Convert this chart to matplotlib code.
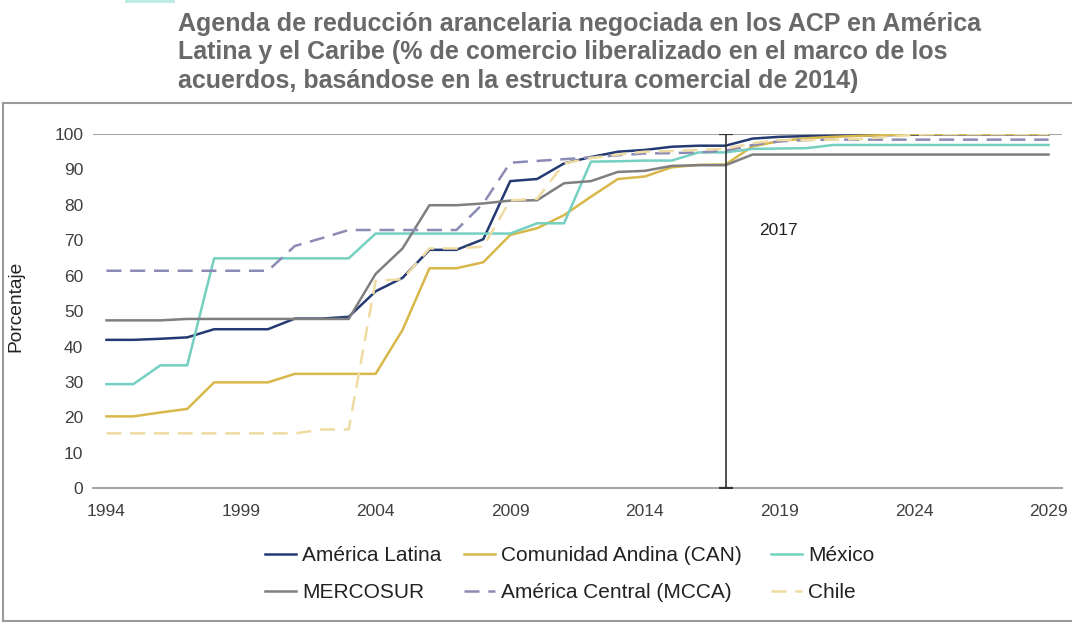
import matplotlib
matplotlib.use("Agg")
import matplotlib.pyplot as plt
from matplotlib.lines import Line2D
from matplotlib.patches import Rectangle

plt.rcParams['font.family'] = ['Liberation Sans', 'DejaVu Sans']

years = list(range(1994, 2030))

america_latina = [41.9, 41.9, 42.2, 42.6, 44.9, 44.9, 44.9, 47.9, 47.9, 48.4,
                  55.6, 59.4, 67.3, 67.3, 70.3, 86.7, 87.3, 91.7, 93.5, 95.0,
                  95.5, 96.4, 96.7, 96.7, 98.7, 99.2, 99.4, 99.5, 99.6, 99.7,
                  99.8, 99.9, 99.9, 99.9, 99.9, 99.9]
can = [20.3, 20.3, 21.4, 22.4, 29.9, 29.9, 29.9, 32.3, 32.3, 32.3,
       32.3, 44.7, 62.1, 62.1, 63.8, 71.5, 73.4, 77.1, 82.3, 87.3,
       88.0, 90.6, 91.3, 91.4, 96.5, 98.0, 98.8, 99.2, 99.5, 99.7,
       100.0, 100.0, 100.0, 100.0, 100.0, 100.0]
mexico = [29.4, 29.4, 34.7, 34.7, 64.9, 64.9, 64.9, 64.9, 64.9, 64.9,
          71.9, 71.9, 71.9, 71.9, 71.9, 71.9, 74.8, 74.8, 92.2, 92.3,
          92.5, 92.5, 94.8, 94.8, 95.8, 95.9, 96.0, 96.9, 96.9, 96.9,
          96.9, 96.9, 96.9, 96.9, 96.9, 96.9]
mercosur = [47.4, 47.4, 47.4, 47.8, 47.8, 47.8, 47.8, 47.8, 47.8, 47.8,
            60.5, 67.7, 79.9, 79.9, 80.4, 81.2, 81.3, 86.1, 86.7, 89.3,
            89.6, 91.0, 91.2, 91.2, 94.2, 94.2, 94.2, 94.2, 94.2, 94.2,
            94.2, 94.2, 94.2, 94.2, 94.2, 94.2]
mcca = [61.4, 61.4, 61.4, 61.4, 61.4, 61.4, 61.4, 68.4, 70.6, 72.9,
        72.9, 72.9, 72.9, 72.9, 80.4, 91.9, 92.4, 92.9, 93.4, 94.0,
        94.5, 94.6, 94.8, 95.3, 96.9, 97.9, 98.3, 98.4, 98.4, 98.4,
        98.4, 98.4, 98.4, 98.4, 98.4, 98.4]
chile = [15.5, 15.5, 15.5, 15.5, 15.5, 15.5, 15.5, 15.5, 16.6, 16.6,
         58.6, 59.0, 67.7, 67.7, 68.2, 81.3, 81.7, 91.7, 93.2, 94.2,
         95.0, 95.2, 95.5, 95.8, 97.4, 98.3, 98.3, 98.4, 98.6, 99.2,
         99.8, 100.0, 100.0, 100.0, 100.0, 100.0]

series_names = ["América Latina", "Comunidad Andina (CAN)", "México",
                "MERCOSUR", "América Central (MCCA)", "Chile"]
xticks = [1994, 1999, 2004, 2009, 2014, 2019, 2024, 2029]
yticks = list(range(0, 101, 10))
marker_year = 2017

W, H = 1072, 623
fig = plt.figure(figsize=(W / 100, H / 100), dpi=100)
ax = fig.add_axes([93 / W, 1 - 488.3 / H, (1062 - 93) / W, (488.3 - 134) / H])

lw = 1.8
h_al, = ax.plot(years, america_latina, color='#243a72', lw=lw, label=series_names[0])
h_can, = ax.plot(years, can, color='#d8b84a', lw=lw, label=series_names[1])
h_mx, = ax.plot(years, mexico, color='#74d0c1', lw=lw, label=series_names[2])
h_me, = ax.plot(years, mercosur, color='#7f7f7f', lw=lw, label=series_names[3])
h_mc, = ax.plot(years, mcca, color='#8c8bb5', lw=lw, ls=(0, (6, 3.5)), label=series_names[4])
h_ch, = ax.plot(years, chile, color='#efdca3', lw=lw, ls=(0, (6, 3.5)), label=series_names[5])

# 2017 reference line with caps
ax.vlines(marker_year, 0, 100, color='#333333', lw=1.2, zorder=5)
ax.plot([marker_year, marker_year], [0, 100], ls='none', marker='_', ms=10,
        mew=1.6, color='#333333', zorder=5)
ax.text(2018.25, 72.9, str(marker_year), fontsize=12.5, color='#222222',
        va='center', ha='left')

ax.axhline(100, color='#a6a6a6', lw=1.5, zorder=0)

ax.set_xlim(1993.5, 2029.5)
ax.set_ylim(0, 100)
ax.set_xticks(xticks)
ax.set_yticks(yticks)
ax.tick_params(axis='both', length=0, labelsize=12.5, labelcolor='#404040')
ax.tick_params(axis='y', pad=7)
ax.tick_params(axis='x', pad=11)
for s in ['top', 'right', 'left']:
    ax.spines[s].set_visible(False)
ax.spines['bottom'].set_color('#a6a6a6')
ax.spines['bottom'].set_linewidth(1.5)

fig.text(16 / W, 1 - 306 / H, "Porcentaje", rotation=90, fontsize=13.75,
         color='#222222', ha='center', va='center')

title_lines = ["Agenda de reducción arancelaria negociada en los ACP en América",
               "Latina y el Caribe (% de comercio liberalizado en el marco de los",
               "acuerdos, basándose en la estructura comercial de 2014)"]
for i, t in enumerate(title_lines):
    fig.text(178 / W, 1 - (31 + 28.5 * i) / H, t, fontsize=18, fontweight='bold',
             color='#696969', ha='left', va='baseline')

# legend: three columns placed at measured positions
columns = [([h_al, h_me], 265), ([h_can, h_mc], 464), ([h_mx, h_ch], 771)]
for hs, xpix in columns:
    leg = fig.legend(handles=hs, labels=[h.get_label() for h in hs],
                     ncol=1, loc='center left', bbox_to_anchor=(xpix / W, 1 - 574 / H),
                     frameon=False, fontsize=15, handlelength=1.5, handletextpad=0.29,
                     labelspacing=0.85, borderpad=0, borderaxespad=0)
    for txt in leg.get_texts():
        txt.set_color('#222222')

# frame lines
border = '#9a9a9a'
fig.add_artist(Line2D([3 / W, 3 / W], [1 - 103 / H, 1 - 621 / H], color=border, lw=1.5,
                      transform=fig.transFigure))
fig.add_artist(Line2D([3 / W, 1.0], [1 - 103 / H, 1 - 103 / H], color=border, lw=1.5,
                      transform=fig.transFigure))
fig.add_artist(Line2D([3 / W, 1.0], [1 - 621 / H, 1 - 621 / H], color=border, lw=1.5,
                      transform=fig.transFigure))
fig.add_artist(Rectangle((125 / W, 1 - 3 / H), 50 / W, 3 / H, color='#bfece4',
                         transform=fig.transFigure, lw=0))

fig.savefig("out.png", dpi=100)
